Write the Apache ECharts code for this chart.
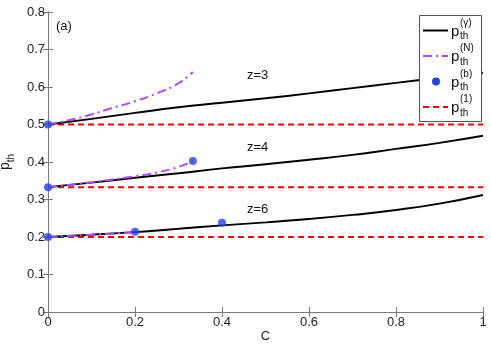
<!DOCTYPE html>
<html>
<head>
<meta charset="utf-8">
<script src="https://cdn.jsdelivr.net/npm/echarts@6/dist/echarts.min.js"></script>
<style>
  html, body { margin: 0; padding: 0; background: #fff; }
  #chart { width: 491px; height: 346px; }
</style>
</head>
<body>
<div id="chart"></div>
<script>
// C values along the curves
const cFull = [0, 0.1, 0.2, 0.3, 0.4, 0.5, 0.6, 0.7, 0.8, 0.9, 1];
// p_th^(gamma), solid black, z = 3, 4, 6
const gammaZ3 = [0.5, 0.515, 0.531, 0.546, 0.558, 0.570, 0.583, 0.597, 0.611, 0.625, 0.638];
const gammaZ4 = [0.333, 0.345, 0.358, 0.370, 0.383, 0.394, 0.406, 0.419, 0.435, 0.451, 0.47];
const gammaZ6 = [0.2, 0.206, 0.213, 0.222, 0.231, 0.239, 0.248, 0.259, 0.272, 0.289, 0.312];

// p_th^(N), purple dash-dot
const cN3 = [0, 0.05, 0.1, 0.15, 0.2, 0.25, 0.3, 0.333];
const nZ3 = [0.5, 0.512, 0.527, 0.545, 0.562, 0.583, 0.61, 0.64];
const cN4 = [0, 0.1, 0.2, 0.25, 0.3, 0.333];
const nZ4 = [0.333, 0.346, 0.362, 0.372, 0.387, 0.403];
const cN6 = [0, 0.1, 0.2];
const nZ6 = [0.2, 0.206, 0.213];

// p_th^(b), blue dots
const cB = [0, 0, 0.333, 0, 0.2, 0.4];
const pB = [0.5, 0.333, 0.403, 0.2, 0.214, 0.238];

// p_th^(1), red dashed
const p1 = [0.5, 0.333, 0.2];

const xTicks = [0, 1, 0.2];   // min, max, interval
const yTicks = [0, 0.8, 0.1];

const zip = (xs, ys) => xs.map((x, i) => [x, ys[i]]);

const FONT = 'Liberation Sans, Arial, sans-serif';
const AXIS_GRAY = '#7a7a7a';

const chart = echarts.init(document.getElementById('chart'));

const blackLine = (data) => ({
  type: 'line', data: zip(cFull, data), smooth: true, symbol: 'none', z: 3,
  lineStyle: { color: '#000', width: 2 }
});
const purpleLine = (xs, ys) => ({
  type: 'line', data: zip(xs, ys), smooth: true, symbol: 'none', z: 4,
  lineStyle: { color: '#bb44ff', width: 2, type: [9, 4, 2, 4] }
});
const redLine = (v) => ({
  type: 'line', data: [[xTicks[0], v], [xTicks[1], v]], symbol: 'none', z: 2,
  lineStyle: { color: '#ff0000', width: 2, type: [6, 4] }
});

const baseX = {
  type: 'value', min: xTicks[0], max: xTicks[1], interval: xTicks[2],
  axisLine: { show: true, lineStyle: { color: AXIS_GRAY, width: 1 } },
  axisTick: { show: true, inside: true, length: 5, lineStyle: { color: AXIS_GRAY } },
  splitLine: { show: false }
};
const baseY = {
  type: 'value', min: yTicks[0], max: yTicks[1], interval: yTicks[2],
  axisLine: { show: true, lineStyle: { color: AXIS_GRAY, width: 1 } },
  axisTick: { show: true, inside: true, length: 5, lineStyle: { color: AXIS_GRAY } },
  splitLine: { show: false }
};

const txt = (x, y, text, size) => ({
  type: 'text', x: x, y: y, z: 11,
  style: { text: text, font: size + 'px ' + FONT, fill: '#111', verticalAlign: 'middle', align: 'left' }
});

// legend drawn by hand to get the stacked sub/superscripts
const legendRows = [
  { y: 30.5, sup: '(γ)' },
  { y: 56, sup: '(N)' },
  { y: 81.5, sup: '(b)' },
  { y: 107, sup: '(1)' }
];
const legendGraphics = [
  { type: 'rect', shape: { x: 419.5, y: 15.5, width: 62, height: 106 },
    style: { fill: '#fff', stroke: '#555', lineWidth: 1 }, z: 10 },
  { type: 'line', shape: { x1: 423, y1: legendRows[0].y, x2: 448, y2: legendRows[0].y },
    style: { stroke: '#000', lineWidth: 2 }, z: 11 },
  { type: 'line', shape: { x1: 423, y1: legendRows[1].y, x2: 448, y2: legendRows[1].y },
    style: { stroke: '#bb44ff', lineWidth: 2, lineDash: [9, 4, 2, 4] }, z: 11 },
  { type: 'circle', shape: { cx: 436, cy: legendRows[2].y, r: 4 },
    style: { fill: '#2040ff' }, z: 11 },
  { type: 'line', shape: { x1: 423, y1: legendRows[3].y, x2: 448, y2: legendRows[3].y },
    style: { stroke: '#ff0000', lineWidth: 2, lineDash: [6, 4] }, z: 11 }
];
legendRows.forEach(r => {
  legendGraphics.push(
    txt(451, r.y + 1, 'p', 15),
    txt(460, r.y - 7.5, r.sup, 10),
    txt(460, r.y + 6, 'th', 10)
  );
});

const option = {
  animation: false,
  backgroundColor: '#fff',
  grid: { left: 48, right: 8, top: 12, bottom: 34, containLabel: false, outerBoundsMode: 'none' },
  xAxis: [
    Object.assign({}, baseX, {
      position: 'bottom',
      axisLabel: { color: '#222', fontSize: 13, fontFamily: FONT, margin: 4 },
      name: 'C', nameLocation: 'middle', nameGap: 18, nameMoveOverlap: false,
      nameTextStyle: { color: '#222', fontSize: 13, fontFamily: FONT }
    }),
    Object.assign({}, baseX, { position: 'top', axisLabel: { show: false } })
  ],
  yAxis: [
    Object.assign({}, baseY, {
      position: 'left',
      axisLabel: { color: '#222', fontSize: 13, fontFamily: FONT, margin: 3 },
      name: '{p|p}{s|th}', nameLocation: 'middle', nameGap: 27,
      nameTextStyle: {
        color: '#222', fontFamily: FONT,
        rich: {
          p: { fontSize: 14, fontFamily: FONT, color: '#222', padding: [0, 0, 6, 0] },
          s: { fontSize: 10, fontFamily: FONT, color: '#222', padding: [6, 0, 0, 0] }
        }
      }
    }),
    Object.assign({}, baseY, { position: 'right', axisLabel: { show: false } })
  ],
  graphic: [
    txt(56, 26, '(a)', 13),
    txt(247, 75, 'z=3', 13),
    txt(247, 147.5, 'z=4', 13),
    txt(247, 209, 'z=6', 13)
  ].concat(legendGraphics),
  series: [
    redLine(p1[0]), redLine(p1[1]), redLine(p1[2]),
    blackLine(gammaZ3), blackLine(gammaZ4), blackLine(gammaZ6),
    purpleLine(cN3, nZ3), purpleLine(cN4, nZ4), purpleLine(cN6, nZ6),
    {
      type: 'scatter', data: zip(cB, pB), symbol: 'circle', symbolSize: 8, z: 6,
      itemStyle: { color: '#2040ff' }
    }
  ]
};

chart.setOption(option);
</script>
</body>
</html>
